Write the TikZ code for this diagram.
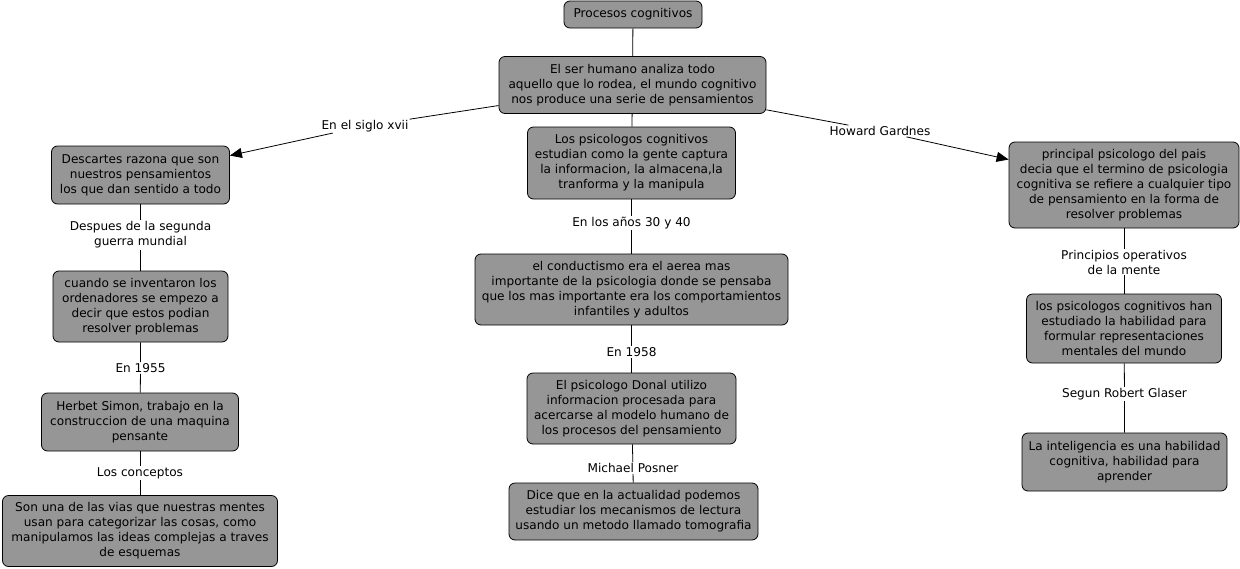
\documentclass[tikz,border=0pt]{standalone}
\usepackage{fontspec}
\setmainfont{DejaVu Sans}
\usepackage{tikz}
\usepackage{xcolor}
\usetikzlibrary{arrows.meta, positioning, shapes}
\definecolor{cmapgray}{RGB}{150,150,150}
\tikzset{
        x=1pt, y=-1pt, % one unit is one pixel of the map, y grows downwards
        every node/.style={font=\fontsize{12.1}{15}\selectfont, align=center}, % text of all concepts and links
    }
\tikzstyle{concept}=[draw,fill=cmapgray,rounded corners=6pt,inner sep=0pt,line width=0.8pt]
\tikzstyle{linking}=[inner sep=1pt]
\tikzstyle{link}=[line width=0.8pt]
\tikzstyle{arrowlink}=[line width=0.8pt,-{Triangle[length=12pt,width=10pt]}]

\begin{document}
\begin{tikzpicture}
    \useasboundingbox (0,0) rectangle (1240,568);

    \node[concept, minimum width=138pt, minimum height=27pt] (proc) at (633,14.5) {Procesos cognitivos};
    \node[concept, minimum width=267pt, minimum height=57pt] (ser) at (632.5,85)
        {El ser humano analiza todo\\aquello que lo rodea, el mundo cognitivo\\nos produce una serie de pensamientos};
    \node[concept, minimum width=208pt, minimum height=72pt] (psico) at (631.5,163)
        {Los psicologos cognitivos\\estudian como la gente captura\\la informacion, la almacena,la\\tranforma y la manipula};
    \node[concept, minimum width=313pt, minimum height=71pt] (cond) at (631.5,289.5)
        {el conductismo era el aerea mas\\importante de la psicologia donde se pensaba\\que los mas importante era los comportamientos\\infantiles y adultos};
    \node[concept, minimum width=209pt, minimum height=71pt] (donal) at (631.5,408.5)
        {El psicologo Donal utilizo\\informacion procesada para\\acercarse al modelo humano de\\los procesos del pensamiento};
    \node[concept, minimum width=249pt, minimum height=57pt] (dice) at (633.5,511.5)
        {Dice que en la actualidad podemos\\estudiar los mecanismos de lectura\\usando un metodo llamado tomografia};

    \node[concept, minimum width=178pt, minimum height=58pt] (desc) at (140.5,175)
        {Descartes razona que son\\nuestros pensamientos\\los que dan sentido a todo};
    \node[concept, minimum width=175pt, minimum height=71pt] (orden) at (140.5,306.5)
        {cuando se inventaron los\\ordenadores se empezo a\\decir que estos podian\\resolver problemas};
    \node[concept, minimum width=197pt, minimum height=58pt] (simon) at (140,422)
        {Herbet Simon, trabajo en la\\construccion de una maquina\\pensante};
    \node[concept, minimum width=275pt, minimum height=71pt] (vias) at (140,531)
        {Son una de las vias que nuestras mentes\\usan para categorizar las cosas, como\\manipulamos las ideas complejas a traves\\de esquemas};

    \node[concept, minimum width=230pt, minimum height=86pt] (gard) at (1124,185)
        {principal psicologo del pais\\decia que el termino de psicologia\\cognitiva se refiere a cualquier tipo\\de pensamiento en la forma de\\resolver problemas};
    \node[concept, minimum width=195pt, minimum height=69pt] (repr) at (1124,328.5)
        {los psicologos cognitivos han\\estudiado la habilidad para\\formular representaciones\\mentales del mundo};
    \node[concept, minimum width=205pt, minimum height=58pt] (intel) at (1124.5,462)
        {La inteligencia es una habilidad\\cognitiva, habilidad para\\aprender};

    \node[linking] (siglo) at (365,126) {En el siglo xvii};
    \node[linking] (howard) at (880,131) {Howard Gardnes};
    \node[linking] (anios) at (631.5,223) {En los años 30 y 40};
    \node[linking] (a1958) at (631.5,352) {En 1958};
    \node[linking] (posner) at (633,468) {Michael Posner};
    \node[linking] (guerra) at (140.5,235) {Despues de la segunda\\guerra mundial};
    \node[linking] (a1955) at (140.5,368) {En 1955};
    \node[linking] (concep) at (140,473) {Los conceptos};
    \node[linking] (princ) at (1124,262) {Principios operativos\\de la mente};
    \node[linking] (glaser) at (1124.5,394) {Segun Robert Glaser};

    \draw[link] (proc) -- (ser);
    \draw[link] (ser) -- (psico);
    \draw[link] (psico) -- (anios) -- (cond);
    \draw[link] (cond) -- (a1958) -- (donal);
    \draw[link] (donal) -- (posner) -- (dice);
    \draw[link] (ser) -- (siglo);
    \draw[arrowlink] (siglo) -- (desc);
    \draw[link] (ser) -- (howard);
    \draw[arrowlink] (howard) -- (gard);
    \draw[link] (desc) -- (guerra) -- (orden);
    \draw[link] (orden) -- (a1955) -- (simon);
    \draw[link] (simon) -- (concep) -- (vias);
    \draw[link] (gard) -- (princ) -- (repr);
    \draw[link] (repr) -- (glaser) -- (intel);
\end{tikzpicture}
\end{document}
